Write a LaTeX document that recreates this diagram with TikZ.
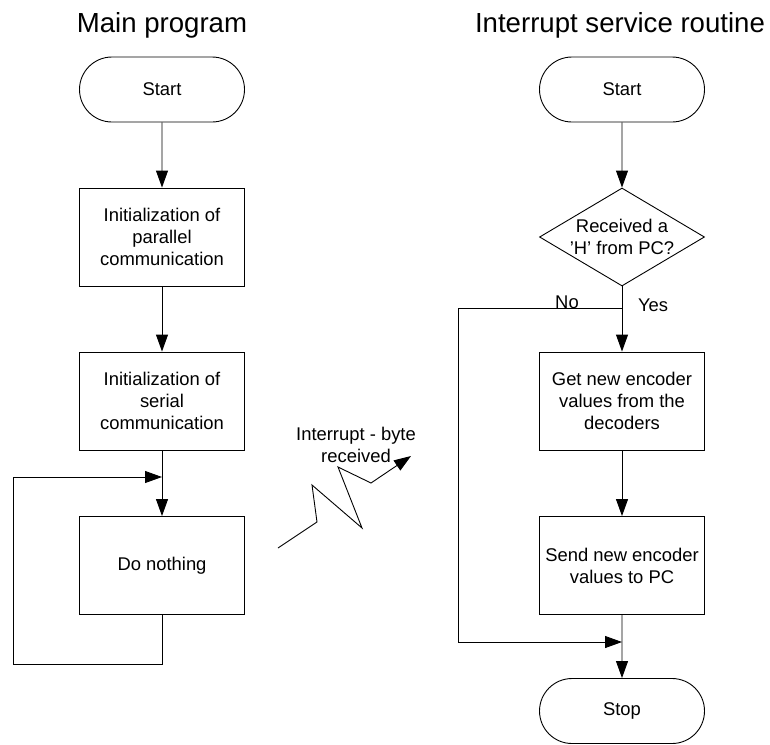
\documentclass[tikz,border=0pt]{standalone}
\usepackage{fontspec}
\setmainfont{Liberation Sans}
\usepackage{tikz}
\usetikzlibrary{arrows.meta, shapes.geometric, shapes.misc}

\begin{document}
\begin{tikzpicture}[x=1pt, y=-1pt, line width=0.9pt,
    >={Triangle[length=17pt, width=12pt]},
    txt/.style={font=\fontsize{18.4}{22}\selectfont, align=center},
    terminal/.style={txt, draw, rounded rectangle, minimum width=165pt, minimum height=65pt, inner sep=0pt},
    proc/.style={txt, draw, rectangle, minimum width=165pt, minimum height=98pt, inner sep=0pt},
    decision/.style={txt, draw, diamond, aspect=1.68, minimum width=165pt, minimum height=98pt, inner sep=0pt},
    title/.style={font=\fontsize{27.6}{32}\selectfont, anchor=base}]
    \useasboundingbox (0,0) rectangle (770,744);

    % 1. Titles of the two flow charts
    \node[title] (tmain) at (162,32) {Main program};
    \node[title] (tisr) at (620,32) {Interrupt service routine};

    % 2. Main program
    \node[terminal] (s1) at (162,89.5) {Start};
    \node[proc] (i1) at (162,237) {Initialization of\\parallel\\communication};
    \node[proc] (i2) at (162,401) {Initialization of\\serial\\communication};
    \node[proc] (dn) at (162,565.5) {Do nothing};
    \draw[->] (s1) -- (i1);
    \draw[->] (i1) -- (i2);
    \draw[->] (i2) -- (dn);
    % loop back above "Do nothing"
    \coordinate (lb) at (13,664);
    \coordinate (lj) at (162,477);
    \draw[->] (dn.south) |- (lb) |- (lj);

    % 3. Interrupt (lightning)
    \node[txt] (irq) at (356,445) {Interrupt - byte\\received};
    \draw[->] (278,548) -- (317,522) -- (312,485) -- (362,528)
        -- (338,467) -- (371,483) -- (411,456);

    % 4. Interrupt service routine
    \node[terminal] (s2) at (622,89.5) {Start};
    \node[decision] (dec) at (622,237) {Received a\\'H' from PC?};
    \node[proc] (get) at (622,401) {Get new encoder\\values from the\\decoders};
    \node[proc] (snd) at (622,565.5) {Send new encoder\\values to PC};
    \node[terminal] (stop) at (622,711) {Stop};
    \draw[->] (s2) -- (dec);
    \draw[->] (dec) -- (get);
    \draw[->] (get) -- (snd);
    \draw[->] (snd) -- (stop);
    % "No" branch goes round to the stop
    \coordinate (br) at (622,308);
    \coordinate (nl) at (458,642);
    \coordinate (mg) at (622,642);
    \draw[->] (br) -| (nl) -- (mg);
    \node[txt] (no) at (567,302) {No};
    \node[txt] (yes) at (653,305) {Yes};

\end{tikzpicture}
\end{document}
